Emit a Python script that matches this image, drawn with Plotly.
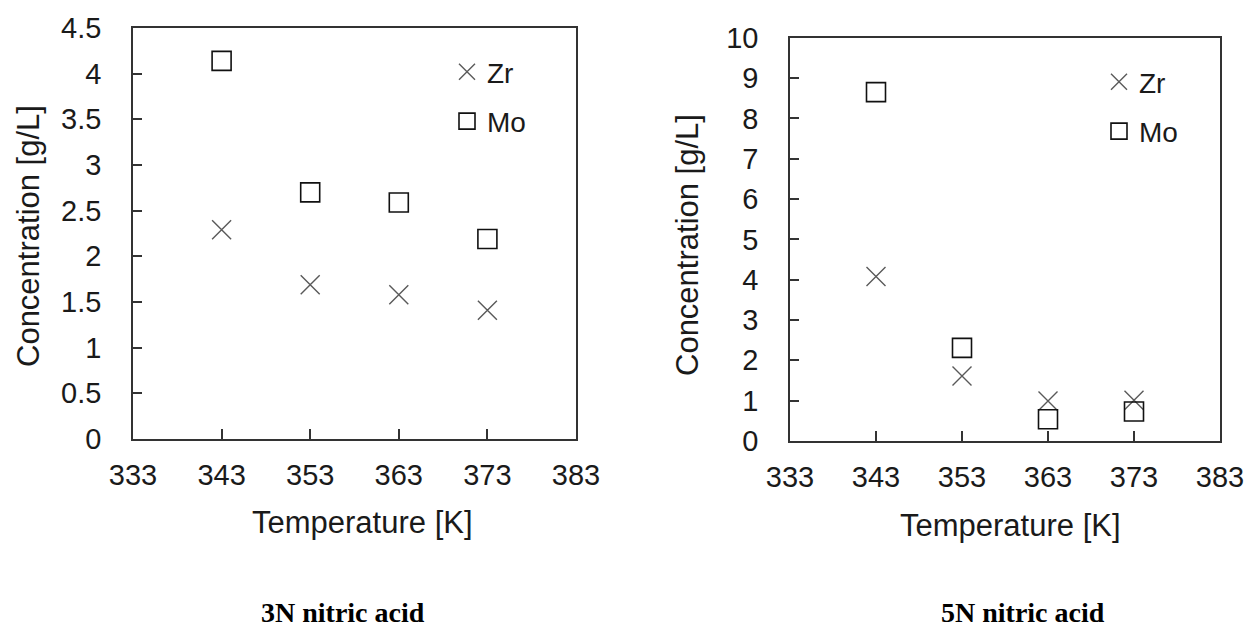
import plotly.graph_objects as go

temps = [343, 353, 363, 373]
zr_3n = [2.29, 1.69, 1.58, 1.41]
mo_3n = [4.14, 2.70, 2.59, 2.19]
zr_5n = [4.08, 1.61, 0.99, 1.01]
mo_5n = [8.65, 2.31, 0.54, 0.73]
x_ticks = [333, 343, 353, 363, 373, 383]
y_ticks_3n = [0, 0.5, 1, 1.5, 2, 2.5, 3, 3.5, 4, 4.5]
y_ticks_5n = list(range(0, 11))
subtitles = ["3N nitric acid", "5N nitric acid"]
x_title = "Temperature [K]"
y_title = "Concentration [g/L]"

W, H = 1254, 630
FONT = "Liberation Sans, Arial, sans-serif"
TXT = "#1a1a1a"

fig = go.Figure()

zr_style = dict(symbol="x-thin-open", size=19, color="#595959", line=dict(color="#595959", width=1.4))
mo_style = dict(symbol="square-open", size=19, color="#111111", line=dict(color="#111111", width=1.6))

fig.add_trace(go.Scatter(x=temps, y=zr_3n, mode="markers", name="Zr", marker=zr_style,
                         xaxis="x", yaxis="y", legend="legend", legendgroup="a"))
fig.add_trace(go.Scatter(x=temps, y=mo_3n, mode="markers", name="Mo", marker=mo_style,
                         xaxis="x", yaxis="y", legend="legend", legendgroup="b"))
fig.add_trace(go.Scatter(x=temps, y=zr_5n, mode="markers", name="Zr", marker=zr_style,
                         xaxis="x2", yaxis="y2", legend="legend2", legendgroup="c"))
fig.add_trace(go.Scatter(x=temps, y=mo_5n, mode="markers", name="Mo", marker=mo_style,
                         xaxis="x2", yaxis="y2", legend="legend2", legendgroup="d"))

def px_x(p):
    return p / W

def px_y(p):
    return (H - p) / H

axis_common = dict(
    showline=True, linecolor="#333333", linewidth=1.5, mirror=True, automargin=False,
    showgrid=False, zeroline=False, ticks="inside", tickcolor="#333333", tickwidth=1.5,
    tickfont=dict(family=FONT, size=29, color=TXT),
)

xa = dict(axis_common, range=[333, 383], tickvals=x_ticks, ticklen=10, ticklabelstandoff=9)

fig.update_layout(
    width=W, height=H, margin=dict(l=0, r=0, t=0, b=0, autoexpand=False),
    paper_bgcolor="white", plot_bgcolor="white",
    xaxis=dict(xa, domain=[px_x(133), px_x(576)], anchor="y"),
    yaxis=dict(axis_common, domain=[px_y(439), px_y(28)], anchor="x", range=[0, 4.5],
               tickvals=y_ticks_3n, ticktext=[f"{v:g}" for v in y_ticks_3n], ticklen=9, ticklabelstandoff=24),
    xaxis2=dict(xa, domain=[px_x(790), px_x(1220)], anchor="y2"),
    yaxis2=dict(axis_common, domain=[px_y(441), px_y(37.7)], anchor="x2", range=[0, 10],
                tickvals=y_ticks_5n, ticklen=9, ticklabelstandoff=24),
    legend=dict(x=px_x(447), y=px_y(47), xanchor="left", yanchor="top", bgcolor="rgba(0,0,0,0)",
                font=dict(family=FONT, size=28, color=TXT), tracegroupgap=10, itemwidth=30),
    legend2=dict(x=px_x(1099), y=px_y(57), xanchor="left", yanchor="top", bgcolor="rgba(0,0,0,0)",
                 font=dict(family=FONT, size=28, color=TXT), tracegroupgap=10, itemwidth=30),
    showlegend=True,
)

title_font = dict(family=FONT, size=31, color=TXT)
for cx, cy in [(362, 522), (1010, 525)]:
    fig.add_annotation(text=x_title, x=px_x(cx), y=px_y(cy), xref="paper", yref="paper",
                       showarrow=False, xanchor="center", yanchor="middle", font=title_font)
for cx, cy in [(28, 236), (688, 245)]:
    fig.add_annotation(text=y_title, x=px_x(cx), y=px_y(cy), xref="paper", yref="paper", textangle=-90,
                       showarrow=False, xanchor="center", yanchor="middle", font=title_font)

for txt, cx in zip(subtitles, [343, 1023]):
    fig.add_annotation(text=f"<b>{txt}</b>", x=px_x(cx), y=0, xref="paper", yref="paper",
                       showarrow=False, xanchor="center", yanchor="bottom",
                       font=dict(family="Liberation Serif, Times New Roman, serif", size=28, color="#000000"))

fig.write_html("out.html")
